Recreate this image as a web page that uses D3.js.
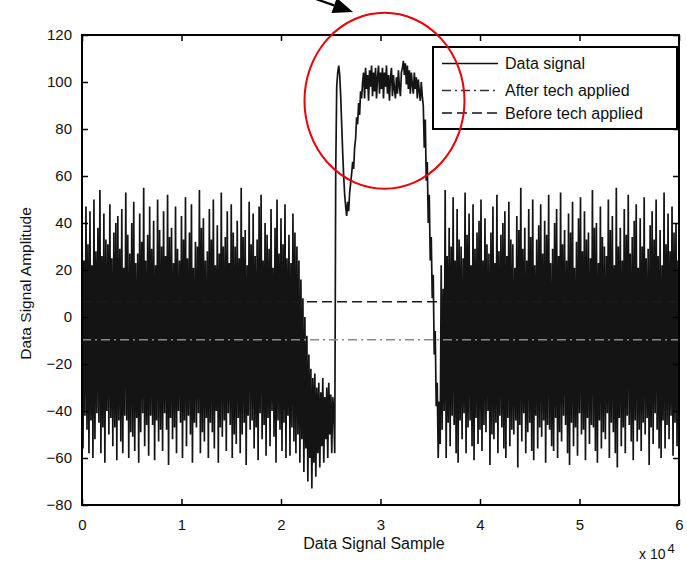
<!DOCTYPE html>
<html>
<head>
<meta charset="utf-8">
<script src="https://cdn.jsdelivr.net/npm/d3@7"></script>
<style>
  html, body { margin: 0; padding: 0; background: #fff; }
  svg { display: block; font-family: "Liberation Sans", Arial, Helvetica, sans-serif; }
</style>
</head>
<body>
<svg id="chart" width="687" height="562"></svg>
<script>
// ---- Recorded data signal, stored as runs of evenly spaced samples ----
// First burst
const burstStart = 0, burstStep = 100;
const burstValues = [
  52,-56,24,-42,47,-48,31,-58,45,-44,22,-60,50,-52,28,-41,38,-45,54,-58,
  26,-47,44,-62,33,-40,31,-50,48,-43,25,-55,36,-47,40,-61,43,-44,29,-53,
  46,-58,21,-42,53,-44,35,-60,27,-49,40,-51,49,-57,23,-43,27,-62,44,-49,
  32,-41,55,-55,24,-46,35,-59,47,-42,29,-46,41,-61,22,-44,50,-53,37,-48,
  30,-57,45,-41,26,-48,52,-63,34,-43,38,-52,23,-47,47,-58,29,-40,24,-45,
  43,-60,33,-44,51,-55,25,-42,36,-50,48,-62,21,-45,32,-47,30,-41,54,-58,
  38,-49,42,-53,24,-43,28,-60,46,-45,33,-49,50,-56,22,-40,39,-62,27,-47,
  53,-51,30,-44,34,-57,45,-41,23,-46,48,-60,36,-50,30,-54,41,-43,25,-58,
  55,-50,34,-45,37,-63,22,-42,49,-48,31,-44,44,-56,26,-47,33,-61,47,-41,
  52,-52,24,-46,40,-59,35,-43,29,-55,46,-40,21,-51,38,-62,50,-44,27,-48,
  42,-57,31,-45,48,-60,25,-42,35,-59,23,-47,44,-53,36
];

// Tail of the first burst sinking towards negative values
const fadeStart = 21500, fadeStep = 100;
const fadeValues = [
  -58,30,-50,24,-62,16,-52,8,-66,0,-56,-8,-70,-16,-60,-22,-73,-26,-62,-24,
  -68,-30,-58,-28,-64,-32,-55,-26,-62,-34,-52,-30,-60,-28,-50,-33,-58,-34,-40,-58
];

// High-amplitude excursion (spike, dip, rising edge, plateau, falling edge)
const peakStart = 25500, peakStep = 100;
const peakValues = [
  62,98,104,107,103,94,82,70,60,52,47,43,49,45,53,57,61,66,63,72,
  76,85,82,91,86,96,93,100,
  104,93,106,97,103,92,105,98,107,94,
  104,96,106,93,102,107,95,104,97,106,
  93,104,98,107,95,103,92,102,106,94,
  103,97,93,102,95,105,98,94,104,106,
  109,103,108,99,107,97,105,95,104,99,
  95,104,97,102,93,101,96,92,100,94,
  90,72,84,58,66,40,52,24,34,8,18,-16,-6,-38,-28,-60,-36,-54
];

// Second burst
const burst2Start = 36100, burst2Step = 100;
const burst2Values = [
  22,-48,12,-40,54,-60,26,-45,38,-55,30,-42,51,-46,24,-58,46,-62,33,-44,
  30,-52,25,-41,53,-58,35,-47,44,-44,22,-55,48,-61,29,-43,36,-54,41,-48,
  50,-57,24,-46,42,-49,31,-40,27,-63,36,-50,47,-52,23,-45,52,-58,28,-42,
  35,-47,40,-56,45,-60,26,-43,49,-55,33,-48,31,-50,21,-44,43,-64,37,-46,
  55,-53,29,-41,38,-58,24,-49,46,-45,34,-57,50,-61,22,-42,33,-56,39,-47,
  48,-51,27,-44,41,-62,35,-46,52,-48,23,-55,29,-57,40,-43,46,-60,26,-49,
  53,-53,31,-42,37,-46,24,-58,44,-63,36,-45,49,-55,21,-47,32,-59,42,-41,
  51,-50,28,-48,45,-61,33,-43,36,-54,25,-46,54,-47,38,-57,40,-62,23,-44,
  47,-56,34,-49,30,-52,26,-41,50,-60,37,-45,43,-49,22,-58,55,-64,30,-43,
  38,-55,24,-47,46,-58,35,-42,52,-46,27,-53,34,-61,41,-44,48,-53,21,-48,
  42,-57,30,-45,51,-50,25,-43,29,-63,39,-47,45,-54,33,-41,50,-48,26,-56,
  37,-60,22,-44,53,-56,31,-46,44,-52,28,-42,47,-59,36,-45,40,-55,24,-50
];

// Reference levels
const levelSamples = [0, 60000];
const afterLevel = [-9.7, -9.7];   // after tech applied
const beforeLevel = [6.5, 6.5];    // before tech applied

// Axes
const xTicks = [0, 10000, 20000, 30000, 40000, 50000, 60000];
const xTickLabels = ["0", "1", "2", "3", "4", "5", "6"];
const yTicks = [-80, -60, -40, -20, 0, 20, 40, 60, 80, 100, 120];

const legendLabels = ["Data signal", "After tech applied", "Before tech applied"];

// ---- Build ----
const segments = [
  {start: burstStart, step: burstStep, values: burstValues},
  {start: fadeStart, step: fadeStep, values: fadeValues},
  {start: peakStart, step: peakStep, values: peakValues},
  {start: burst2Start, step: burst2Step, values: burst2Values}
];
const signal = [];
segments.forEach(s => s.values.forEach((v, i) => signal.push({s: s.start + i * s.step, v})));

const svg = d3.select("#chart");
const L = 82, R = 679, T = 35, B = 505;

const x = d3.scaleLinear().domain([0, 60000]).range([L, R]);
const y = d3.scaleLinear().domain([-80, 120]).range([B, T]);

svg.append("rect").attr("width", 687).attr("height", 562).attr("fill", "#fff");

svg.append("defs").append("clipPath").attr("id", "plotClip")
  .append("rect").attr("x", L).attr("y", T).attr("width", R - L).attr("height", B - T);

const plot = svg.append("g").attr("clip-path", "url(#plotClip)");

const line = d3.line().x(d => x(d.s)).y(d => y(d.v));

plot.append("path")
  .datum(signal)
  .attr("d", line)
  .attr("fill", "none")
  .attr("stroke", "#141414")
  .attr("stroke-width", 1.7)
  .attr("stroke-linejoin", "bevel");

const levelLine = d3.line().x(d => x(d[0])).y(d => y(d[1]));

plot.append("path")
  .datum(levelSamples.map((s, i) => [s, beforeLevel[i]]))
  .attr("d", levelLine)
  .attr("fill", "none")
  .attr("stroke", "#1a1a1a")
  .attr("stroke-width", 1.6)
  .attr("stroke-dasharray", "10,5");

plot.append("path")
  .datum(levelSamples.map((s, i) => [s, afterLevel[i]]))
  .attr("d", levelLine)
  .attr("fill", "none")
  .attr("stroke", "#8a8a8a")
  .attr("stroke-width", 1.6)
  .attr("stroke-dasharray", "9,4,2,4");

// Axes with inward ticks on all four sides
const fontSize = 15;
const bottomAxis = d3.axisBottom(x).tickValues(xTicks)
  .tickFormat((d, i) => xTickLabels[i]).tickSizeInner(-6).tickSizeOuter(0).tickPadding(14);
const leftAxis = d3.axisLeft(y).tickValues(yTicks)
  .tickFormat(d3.format("d")).tickSizeInner(-6).tickSizeOuter(0).tickPadding(10);
const topAxis = d3.axisTop(x).tickValues(xTicks).tickFormat("").tickSizeInner(-6).tickSizeOuter(0);
const rightAxis = d3.axisRight(y).tickValues(yTicks).tickFormat("").tickSizeInner(-6).tickSizeOuter(0);

function styleAxis(g) {
  g.select(".domain").remove();
  g.selectAll(".tick line").attr("stroke", "#000").attr("stroke-width", 1.5);
  g.selectAll(".tick text").attr("fill", "#111")
    .style("font-size", fontSize + "px").style("font-family", '"Liberation Sans", Arial, sans-serif');
}

svg.append("g").attr("transform", `translate(0,${B})`).call(bottomAxis).call(styleAxis);
svg.append("g").attr("transform", `translate(${L},0)`).call(leftAxis).call(styleAxis);
svg.append("g").attr("transform", `translate(0,${T})`).call(topAxis).call(styleAxis);
svg.append("g").attr("transform", `translate(${R},0)`).call(rightAxis).call(styleAxis);

// Frame
svg.append("rect")
  .attr("x", L).attr("y", T).attr("width", R - L).attr("height", B - T)
  .attr("fill", "none").attr("stroke", "#000").attr("stroke-width", 2);

// Axis titles
svg.append("text")
  .attr("x", 374).attr("y", 549)
  .attr("text-anchor", "middle")
  .style("font-size", "16px").attr("fill", "#111")
  .text("Data Signal Sample");

svg.append("text")
  .attr("transform", "translate(31,283.5) rotate(-90)")
  .attr("text-anchor", "middle")
  .style("font-size", "15.5px").attr("fill", "#111")
  .text("Data Signal Amplitude");

// Exponent
const expo = svg.append("text").attr("x", 639).attr("y", 559)
  .style("font-size", "14px").attr("fill", "#111");
expo.append("tspan").text("x 10");
expo.append("tspan").attr("dx", 2).attr("dy", -6).style("font-size", "13px").text("4");

// Legend
const lg = svg.append("g");
lg.append("rect")
  .attr("x", 433).attr("y", 47).attr("width", 244).attr("height", 82)
  .attr("fill", "#fff").attr("stroke", "#000").attr("stroke-width", 2);
const legendRows = [
  {y: 63.5, stroke: "#111", dash: null},
  {y: 90.5, stroke: "#333", dash: "9,4,2,4"},
  {y: 113, stroke: "#111", dash: "10,5"}
];
legendRows.forEach((r, i) => {
  lg.append("line")
    .attr("x1", 442).attr("x2", 498).attr("y1", r.y).attr("y2", r.y)
    .attr("stroke", r.stroke).attr("stroke-width", 1.6)
    .attr("stroke-dasharray", r.dash);
  lg.append("text")
    .attr("x", 505).attr("y", r.y).attr("dy", "0.36em")
    .style("font-size", "16px").attr("fill", "#111")
    .text(legendLabels[i]);
});

// Highlight ring around the high-amplitude excursion
svg.append("ellipse")
  .attr("cx", x(30400)).attr("cy", y(92))
  .attr("rx", 80).attr("ry", 88)
  .attr("fill", "none").attr("stroke", "#e8000b").attr("stroke-width", 2);

// Pointer arrow aimed at the ring
const tail = [313, -2], tip = [353, 12];
const dx = tip[0] - tail[0], dy = tip[1] - tail[1];
const len = Math.hypot(dx, dy), ux = dx / len, uy = dy / len;
const headLen = 20, headHalf = 8;
const base = [tip[0] - ux * headLen, tip[1] - uy * headLen];
svg.append("line")
  .attr("x1", tail[0]).attr("y1", tail[1]).attr("x2", base[0]).attr("y2", base[1])
  .attr("stroke", "#000").attr("stroke-width", 2.2);
svg.append("polygon")
  .attr("points", [
    tip,
    [base[0] - uy * headHalf, base[1] + ux * headHalf],
    [base[0] + uy * headHalf, base[1] - ux * headHalf]
  ].map(p => p.join(",")).join(" "))
  .attr("fill", "#000");
</script>
</body>
</html>
